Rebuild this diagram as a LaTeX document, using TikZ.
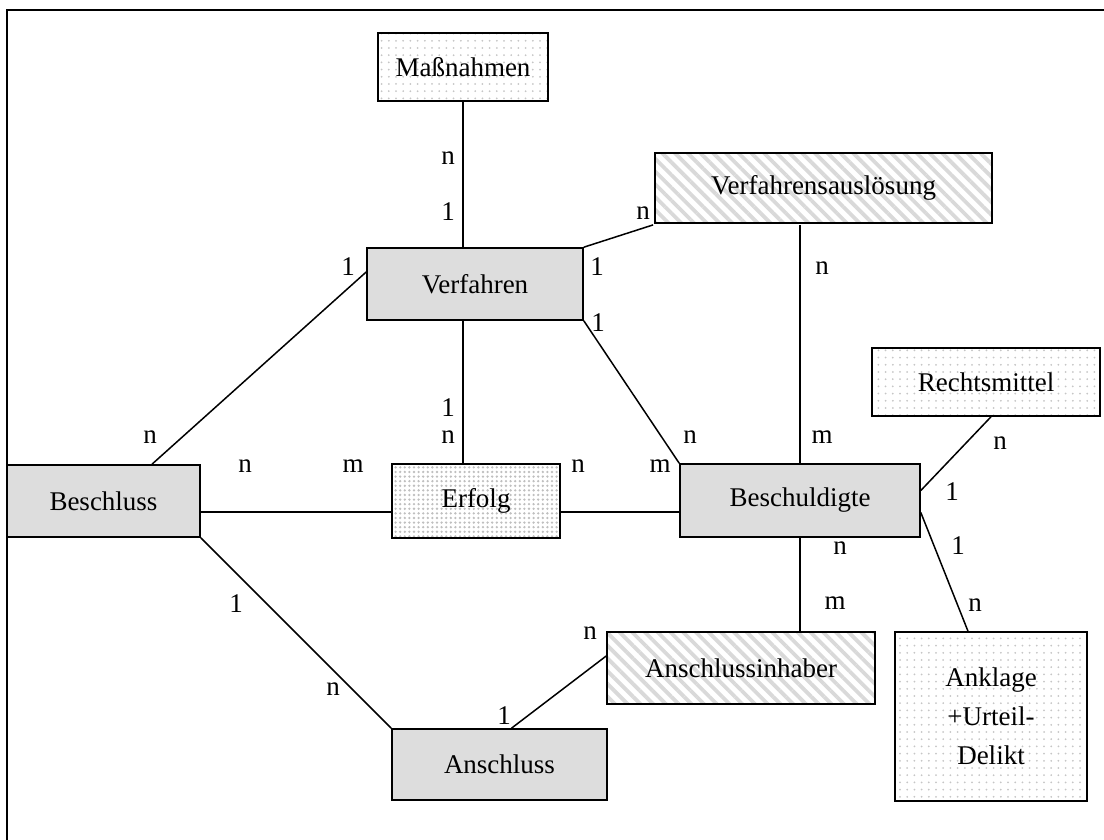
\documentclass[tikz,border=0pt]{standalone}
\usepackage{fontspec}
\setmainfont{Liberation Serif}
\usetikzlibrary{patterns.meta}

\begin{document}
\begin{tikzpicture}[x=0.5pt,y=-0.5pt,
        entity/.style={draw, line width=0.8pt, inner sep=0pt, font=\fontsize{13.5}{16}\selectfont},
        greybox/.style={entity, fill={rgb,255:red,221;green,221;blue,221}},
        dotbox/.style={entity, pattern={Dots[distance=3.6pt,radius=0.5pt]}, pattern color=gray!45},
        densebox/.style={entity, pattern={Dots[distance=2.3pt,radius=0.65pt]}, pattern color=gray!50},
        stripebox/.style={entity, pattern={Lines[angle=-45,distance=4.5pt,line width=1.9pt]}, pattern color=gray!30},
        card/.style={inner sep=0pt, font=\fontsize{13.5}{16}\selectfont},
        rel/.style={line width=0.75pt}]
        \useasboundingbox (0,0) rectangle (1104,840);
        \draw[line width=1pt] (1104,10) -| (7,840);

        % entities
        \node[dotbox, minimum width=85pt, minimum height=34pt] (mass) at (463,67) {Maßnahmen};
        \node[stripebox, minimum width=168.5pt, minimum height=35pt] (ausl) at (823.5,188) {Verfahrensauslösung};
        \node[greybox, minimum width=108pt, minimum height=36pt] (verf) at (475,284) {Verfahren};
        \node[dotbox, minimum width=114pt, minimum height=34pt] (rmit) at (986,382) {Rechtsmittel};
        \node[greybox, minimum width=96.5pt, minimum height=36pt] (bsl) at (103.5,501) {Beschluss};
        \node[densebox, minimum width=84pt, minimum height=37pt] (erf) at (476,501) {Erfolg};
        \node[greybox, minimum width=120pt, minimum height=36.5pt] (bsd) at (800,500.5) {Beschuldigte};
        \node[stripebox, minimum width=134pt, minimum height=36pt] (ainh) at (741,668) {Anschlussinhaber};
        \node[dotbox, minimum width=96pt, minimum height=84.5pt, align=center,
              font=\fontsize{13.5}{19.5}\selectfont] (ankl) at (991,716.5) {Anklage\\+Urteil-\\Delikt};
        \node[greybox, minimum width=107.5pt, minimum height=35.5pt] (ansc) at (499.5,764.5) {Anschluss};

        % relationships
        \coordinate (bl) at ([yshift=-5.5pt]bsl.east);
        \coordinate (vl) at ([yshift=6pt]verf.west);
        \coordinate (bt) at ([xshift=24.25pt]bsl.north);
        \coordinate (rt) at ([yshift=5pt]bsd.east);
        \coordinate (rb) at ([yshift=-6pt]bsd.east);
        \draw[rel] (mass.south) -- (mass.south |- verf.north);
        \draw[rel] (mass.south |- verf.south) -- (mass.south |- erf.north);
        \draw[rel] (verf.north east) -- (ausl.south west);
        \draw[rel] (verf.south east) -- (bsd.north west);
        \draw[rel] (vl) -- (bt);
        \draw[rel] (ausl.south -| bsd.north) -- (bsd.north);
        \draw[rel] (bsd.south) -- (bsd.south |- ainh.north);
        \draw[rel] (bl) -- (bl -| erf.west);
        \draw[rel] (erf.east |- bl) -- (bl -| bsd.west);
        \draw[rel] (bsl.south east) -- (ansc.north west);
        \draw[rel] ([yshift=6pt]ainh.west) -- ([xshift=6pt]ansc.north);
        \draw[rel] (rt) -- ([xshift=2.5pt]rmit.south);
        \draw[rel] (rb) -- ([xshift=-11.5pt]ankl.north);

        % cardinalities
        \node[card] (c1) at (448,158) {n};
        \node[card] (c2) at (448,212) {1};
        \node[card] (c3) at (643,213) {n};
        \node[card] (c4) at (597,267) {1};
        \node[card] (c5) at (598,323) {1};
        \node[card] (c6) at (348,267) {1};
        \node[card] (c7) at (822,268) {n};
        \node[card] (c8) at (1000,443) {n};
        \node[card] (c9) at (448,408) {1};
        \node[card] (c10) at (448,437) {n};
        \node[card] (c11) at (150,437) {n};
        \node[card] (c12) at (690,437) {n};
        \node[card] (c13) at (822,437) {m};
        \node[card] (c14) at (245,466) {n};
        \node[card] (c15) at (353,466) {m};
        \node[card] (c16) at (578,466) {n};
        \node[card] (c17) at (660,466) {m};
        \node[card] (c18) at (952,492) {1};
        \node[card] (c19) at (840,548) {n};
        \node[card] (c20) at (958,546) {1};
        \node[card] (c21) at (236,604) {1};
        \node[card] (c22) at (835,603) {m};
        \node[card] (c23) at (975,605) {n};
        \node[card] (c24) at (590,633) {n};
        \node[card] (c25) at (333,689) {n};
        \node[card] (c26) at (504,716) {1};
\end{tikzpicture}
\end{document}
